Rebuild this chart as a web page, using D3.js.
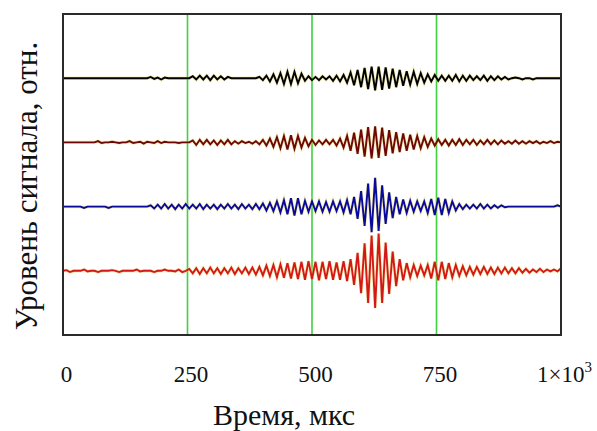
<!DOCTYPE html>
<html><head><meta charset="utf-8">
<script src="https://cdn.jsdelivr.net/npm/d3@7"></script>
<style>body{margin:0;background:#fff} text{font-family:"Liberation Serif","DejaVu Serif","Times New Roman",serif}</style></head>
<body>
<svg id="c" width="597" height="431"></svg>
<script>
// ---- data ----
const timeMax = 1000;                       // мкс
const xTicks = [0, 250, 500, 750, 1000];
const gridTimes = [250, 500, 750];
const traceOffsets = [400, 300, 200, 100];  // вертикальные смещения трасс (отн.)
const traceColors = ["#000000", "#6e0808", "#0a0a9a", "#d41818"];
const xTitle = "Время, мкс";
const yTitle = "Уровень сигнала, отн.";

// samples equally spaced over 0..1000 мкс (143 samples)
const trace1 = [0,0,0,0,0,0,0,0,0,0,0,0,0,0,0,0,0,0,0,0,0,0,0,0,
 0,2,-1,1,-2,1,0,
 0,0,0,0,0,0,
 3,-2,4,-2,4,-3,4,-2,3,-2,2,0,
 0,0,0,0,0,0,0,
 2,-3,4,-5,6,-7,8,
 -9,10,-9,10,-8,7,
 -4,3,-3,2,-3,3,-2,3,-4,4,-5,
 5,-7,9,-11,13,-14,16,-17,18,-19,18,-18,17,-16,15,-14,13,-12,11,-10,10,-9,8,-7,6,
 -5,5,-4,4,-4,4,-4,5,-5,4,-4,4,-3,3,-3,4,-4,3,-3,3,-2,2,-2,
 0,1,0,-2,0,0,-2,0,
 0,0,0,0,0,0,0];
const trace2 = [0,0,0,0,0,0,0,0,0,0,
 2,-1,0,0,1,0,-1,0,0,2,-1,
 0,1,-2,1,0,-1,2,-1,1,0,
 0,0,-1,0,0,0,
 3,-4,4,-3,4,-3,3,-4,3,-3,4,-3,2,-2,2,-1,
 1,-2,2,
 -3,4,-5,6,-7,8,-9,10,-11,11,-10,10,-8,7,-6,
 4,-4,3,-3,4,-3,4,-5,
 6,-8,10,-13,15,-18,20,-22,24,-25,25,-24,23,-21,19,-17,16,-15,14,-13,12,-11,10,-9,8,-7,
 6,-5,5,-4,4,-5,4,-4,5,-4,4,-3,4,-4,3,-3,4,-3,3,-3,3,
 -2,2,-2,3,-2,2,-2,2,-1,2,-2,1,-1,2,-1,1,0];
const trace3 = [0,0,0,0,0,0,-2,0,0,0,0,0,0,-2,0,0,0,0,0,0,0,0,0,0,0,
 2,-3,3,-3,4,-3,3,-4,3,-3,4,-3,3,-3,4,-4,3,-3,3,-4,3,-3,4,-3,3,-4,4,-3,3,-4,4,-4,
 5,-6,6,-7,8,-9,10,-12,
 13,-14,13,-12,
 9,-8,8,-7,8,-8,7,-8,8,-7,8,-9,10,
 -12,15,-19,24,-30,36,-40,45,-38,33,-27,22,-18,15,
 -12,11,-10,9,-8,8,-7,8,
 -10,12,-13,14,-13,12,-10,8,-6,
 4,-4,3,-3,3,-3,4,-3,3,-3,2,-2,2,-1,
 0,0,0,0,0,0,0,0,0,0,0,0,0,0,2,0];
const trace4 = [0,1,-2,0,0,0,2,-1,0,0,-2,0,0,0,1,0,-2,0,0,0,0,2,-1,0,0,0,-2,0,0,2,0,0,-1,2,-2,0,
 3,-4,4,-5,4,-4,5,-4,4,-5,4,-4,5,-5,4,-4,5,-5,5,
 -6,6,-7,8,-8,9,-10,10,-11,12,-12,13,-13,
 14,-14,15,-13,14,-15,14,-13,15,-14,13,-14,15,-16,18,
 -22,28,-35,43,-50,55,-58,58,-50,44,-36,30,-24,18,
 -15,12,-10,9,-8,8,-7,9,
 -12,14,-15,14,-13,12,-10,9,
 -8,7,-7,6,-6,6,-5,6,-5,5,-5,5,-4,5,-4,4,-4,4,
 -3,3,-3,2,-2,3,-2,2,-1,2,-1,4];
const traces = [trace1, trace2, trace3, trace4];

// ---- chart ----
const svg = d3.select("#c");
const L = 63, R = 561, T = 14, B = 335;
const x = d3.scaleLinear().domain([0, timeMax]).range([L, R]);
const y = d3.scaleLinear().domain([0, 500]).range([B, T]);

// green grid lines
svg.append("g").selectAll("line").data(gridTimes).join("line")
  .attr("x1", d => x(d)).attr("x2", d => x(d))
  .attr("y1", T).attr("y2", B)
  .attr("stroke", "#3fd03f").attr("stroke-width", 1.6);

// traces
traces.forEach((tr, k) => {
  const n = tr.length;
  const pts = tr.map((v, i) => [i * timeMax / (n - 1), traceOffsets[k] + v]);
  const line = d3.line().x(d => x(d[0])).y(d => y(d[1]));
  svg.append("path").attr("d", line(pts)).attr("fill", "none")
    .attr("stroke", "#e2d460").attr("stroke-opacity", 0.45).attr("stroke-width", 3.4);
  svg.append("path").attr("d", line(pts)).attr("fill", "none")
    .attr("stroke", traceColors[k]).attr("stroke-width", 1.9)
    .attr("stroke-linejoin", "miter");
});

// frame
svg.append("rect").attr("x", L).attr("y", T).attr("width", R - L).attr("height", B - T)
  .attr("fill", "none").attr("stroke", "#2a2a2a").attr("stroke-width", 2);

// x axis labels
const ax = svg.append("g").attr("transform", `translate(3,${B})`)
  .call(d3.axisBottom(x).tickValues(xTicks).tickSize(0).tickPadding(0)
    .tickFormat(d => d === 1000 ? "1×10" : String(d)));
ax.select(".domain").remove();
ax.attr("font-family", null);
ax.selectAll("text").style("font-family", '"Liberation Serif","DejaVu Serif",serif')
  .attr("font-size", 23).attr("fill", "#111").attr("dy", 0).attr("y", 47);
ax.selectAll(".tick").filter(d => d === 1000).select("text")
  .append("tspan").attr("dy", -10).attr("font-size", 15).text("3");

// titles
svg.append("text").attr("x", 284).attr("y", 425).attr("text-anchor", "middle")
  .attr("font-size", 30).attr("fill", "#111").text(xTitle);
svg.append("text").attr("transform", "translate(37,186) rotate(-90)")
  .attr("text-anchor", "middle").attr("font-size", 31)
  .attr("fill", "#111").text(yTitle);
</script>
</body></html>
